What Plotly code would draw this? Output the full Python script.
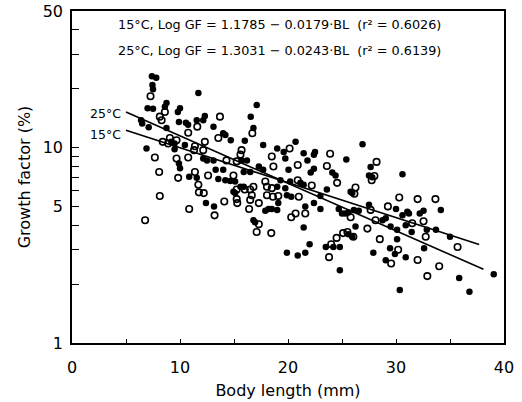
import plotly.graph_objects as go
import numpy as np

# ---- data ----
filled_x = [7.4, 7.8, 7.45, 7.5, 7.0, 7.5, 6.4, 6.5, 7.1, 6.9,
            8.75, 8.6, 8.75, 10.0, 9.8, 9.9, 10.55, 10.75, 9.2, 9.5,
            10.45, 9.5, 9.9, 10.0, 10.85, 11.55, 11.7, 11.55, 12.4, 13.15,
            13.3, 14.0, 17.1, 16.55, 16.8, 12.3, 12.15, 13.1, 14.0, 14.2,
            14.7, 16.0, 17.7, 20.7, 19.0, 19.75, 12.15, 12.5, 13.1, 15.7,
            16.2, 17.3, 17.7, 20.05, 15.9, 16.5, 13.55, 14.2, 14.65, 15.1,
            19.3, 20.2, 15.6, 15.9, 19.0, 19.75, 14.95, 15.1, 19.9, 20.3,
            19.1, 17.9, 18.2, 18.5, 19.0, 16.8, 16.95, 19.9, 20.9, 26.9,
            21.45, 22.5, 22.4, 21.8, 25.4, 27.65, 22.4, 22.1, 24.1, 24.4,
            27.5, 27.8, 21.15, 21.45, 23.6, 25.8, 25.95, 23.0, 22.4, 21.6,
            23.0, 24.7, 27.5, 30.0, 25.0, 25.3, 25.6, 26.1, 26.55, 28.75,
            29.05, 26.25, 29.5, 30.1, 21.45, 25.6, 25.95, 30.1, 22.0, 23.5,
            24.2, 24.8, 21.6, 27.9, 29.45, 29.9, 29.05, 24.8, 30.35, 30.6,
            31.05, 31.2, 30.6, 32.55, 32.2, 34.15, 30.9, 32.85, 33.7, 31.45,
            35.0, 32.6, 30.9, 35.85, 36.8, 39.05, 19.6]
filled_y = [23.2, 22.8, 20.9, 19.9, 15.9, 15.8, 13.8, 13.3, 12.7, 9.9,
            16.9, 16.2, 12.6, 15.9, 15.2, 13.5, 13.4, 13.1, 10.7, 10.5,
            10.3, 9.8, 8.3, 7.85, 7.1, 13.8, 19.0, 7.0, 5.2, 5.0,
            7.7, 7.7, 16.5, 14.4, 12.6, 14.5, 13.8, 12.8, 11.85, 11.6,
            10.9, 10.85, 10.3, 10.7, 9.9, 8.8, 8.8, 8.6, 8.6, 8.6,
            8.6, 8.0, 7.7, 7.7, 7.5, 7.5, 6.9, 6.8, 6.75, 6.7,
            6.8, 6.7, 6.3, 6.3, 6.3, 6.2, 5.95, 5.85, 5.7, 5.6,
            5.2, 4.75, 4.85, 4.85, 4.8, 4.25, 4.15, 2.9, 2.8, 10.4,
            9.35, 9.5, 9.2, 8.6, 8.7, 7.95, 7.8, 7.45, 7.45, 7.2,
            7.2, 7.05, 6.6, 6.45, 6.1, 5.95, 5.85, 5.65, 5.2, 5.0,
            4.85, 4.85, 5.1, 4.85, 4.6, 4.6, 4.65, 4.8, 4.75, 4.25,
            4.35, 3.95, 3.95, 3.8, 3.9, 3.6, 3.5, 3.4, 3.2, 3.1,
            3.1, 3.1, 2.9, 2.9, 3.05, 2.85, 2.65, 2.36, 1.87, 7.3,
            4.7, 4.6, 4.5, 4.75, 4.6, 4.8, 4.0, 3.8, 3.8, 3.7,
            3.5, 3.05, 2.75, 2.15, 1.83, 2.25, 9.5]

open_x = [7.27, 7.67, 8.07, 8.13, 6.77, 8.6, 8.13, 8.3, 10.76, 9.06,
          8.9, 9.68, 9.68, 10.76, 9.83, 11.38, 11.3, 11.6, 11.7, 11.75,
          10.85, 11.38, 12.2, 13.2, 13.7, 16.7, 13.55, 12.3, 12.15, 15.7,
          15.6, 20.15, 18.5, 14.3, 15.25, 18.65, 20.9, 12.6, 14.95, 17.9,
          20.9, 15.25, 16.8, 16.5, 18.05, 18.5, 16.0, 16.65, 18.05, 18.6,
          19.1, 21.0, 14.1, 15.25, 15.3, 16.5, 17.3, 16.4, 20.3, 20.7,
          17.3, 17.1, 18.45, 23.9, 28.2, 23.6, 24.55, 28.0, 27.75, 22.2,
          26.25, 26.15, 30.3, 21.6, 29.25, 27.65, 25.8, 28.1, 27.35, 25.1,
          25.5, 26.05, 24.5, 28.5, 24.0, 23.8, 30.2, 29.55, 32.0, 33.65,
          32.55, 31.5, 32.75, 35.7, 32.0, 34.0, 32.9, 8.4]
open_y = [18.3, 8.9, 7.5, 5.65, 4.25, 15.2, 14.4, 13.8, 11.9, 11.2,
          10.5, 10.9, 8.8, 8.9, 7.0, 10.15, 9.7, 12.8, 6.45, 5.9,
          4.85, 7.5, 5.85, 4.5, 14.4, 11.85, 11.2, 10.7, 9.7, 9.7,
          9.2, 9.9, 9.0, 8.6, 8.5, 8.0, 8.15, 7.2, 7.2, 6.7,
          6.8, 6.1, 6.3, 6.1, 6.3, 6.2, 6.1, 5.7, 5.7, 5.6,
          5.65, 5.6, 5.3, 5.45, 5.2, 5.4, 5.2, 4.85, 4.4, 4.6,
          4.05, 3.7, 3.65, 9.3, 8.45, 8.05, 6.6, 7.15, 6.8, 6.4,
          6.25, 5.8, 5.55, 4.6, 5.0, 4.8, 4.4, 4.25, 3.85, 3.65,
          3.7, 3.5, 3.45, 3.4, 3.2, 2.75, 3.0, 2.55, 5.45, 5.45,
          4.2, 4.1, 3.5, 3.1, 2.66, 2.47, 2.2, 10.7]

# regression: log10(GF) = a + b * BL
reg_15 = (1.1785, -0.0179)
reg_25 = (1.3031, -0.0243)
line_15_x = [5.0, 37.7]
line_25_x = [5.0, 38.1]

x_ticks = [0, 10, 20, 30, 40]
y_ticks = [1, 5, 10, 50]
y_minor = [2, 3, 4, 6, 7, 8, 9, 20, 30, 40]
x_minor = [5, 15, 25, 35]

FONT = "DejaVu Sans"

fig = go.Figure()

fig.add_trace(go.Scatter(x=filled_x, y=filled_y, mode="markers",
                         marker=dict(symbol="circle", size=6.5, color="black",
                                     line=dict(color="black", width=0)),
                         showlegend=False, hoverinfo="skip"))
fig.add_trace(go.Scatter(x=open_x, y=open_y, mode="markers",
                         marker=dict(symbol="circle-open", size=6.5, color="black",
                                     line=dict(color="black", width=1.6)),
                         showlegend=False, hoverinfo="skip"))

for (a, b), xs in [(reg_15, line_15_x), (reg_25, line_25_x)]:
    xs = np.array(xs)
    fig.add_trace(go.Scatter(x=xs, y=10 ** (a + b * xs), mode="lines",
                             line=dict(color="black", width=1.6),
                             showlegend=False, hoverinfo="skip"))

fig.add_annotation(x=4.7, y=np.log10(15.0), xref="x", yref="y", text="25°C",
                   showarrow=False, xanchor="right", yanchor="middle",
                   font=dict(family=FONT, size=12.5, color="black"))
fig.add_annotation(x=4.7, y=np.log10(11.7), xref="x", yref="y", text="15°C",
                   showarrow=False, xanchor="right", yanchor="middle",
                   font=dict(family=FONT, size=12.5, color="black"))

fig.add_annotation(x=0.481, y=0.958, xref="paper", yref="paper",
                   text="15°C, Log GF = 1.1785 − 0.0179·BL  (r² = 0.6026)",
                   showarrow=False, xanchor="center", yanchor="middle",
                   font=dict(family=FONT, size=12.8, color="black"))
fig.add_annotation(x=0.481, y=0.8825, xref="paper", yref="paper",
                   text="25°C, Log GF = 1.3031 − 0.0243·BL  (r² = 0.6139)",
                   showarrow=False, xanchor="center", yanchor="middle",
                   font=dict(family=FONT, size=12.8, color="black"))

fig.update_layout(
    width=522, height=402,
    margin=dict(l=72, r=18, t=11, b=59),
    paper_bgcolor="white", plot_bgcolor="white",
    font=dict(family=FONT, color="black"),
    xaxis=dict(range=[0, 40], tickvals=x_ticks, ticktext=[str(v) for v in x_ticks],
               ticks="inside", ticklen=4, tickwidth=1.2, tickcolor="black",
               minor=dict(tickvals=x_minor, ticks="inside", ticklen=4, tickwidth=1.2, tickcolor="black"),
               showgrid=False, zeroline=False, showline=True, linecolor="black",
               linewidth=1.6, mirror=True, ticklabelstandoff=9, automargin=False,
               tickfont=dict(family=FONT, size=16, color="black"),
               title=dict(text="Body length (mm)", standoff=9,
                          font=dict(family=FONT, size=16, color="black"))),
    yaxis=dict(type="log", range=[0, np.log10(50)], tickvals=y_ticks,
               ticktext=[str(v) for v in y_ticks],
               ticks="inside", ticklen=7, tickwidth=1.2, tickcolor="black",
               minor=dict(tickvals=y_minor, ticks="inside", ticklen=7, tickwidth=1.2, tickcolor="black"),
               showgrid=False, zeroline=False, showline=True, linecolor="black",
               linewidth=1.6, mirror=True, ticklabelstandoff=4, automargin=False,
               tickfont=dict(family=FONT, size=16, color="black"),
               title=dict(text="Growth factor (%)", standoff=8,
                          font=dict(family=FONT, size=16, color="black"))),
)

fig.write_html("out.html")
